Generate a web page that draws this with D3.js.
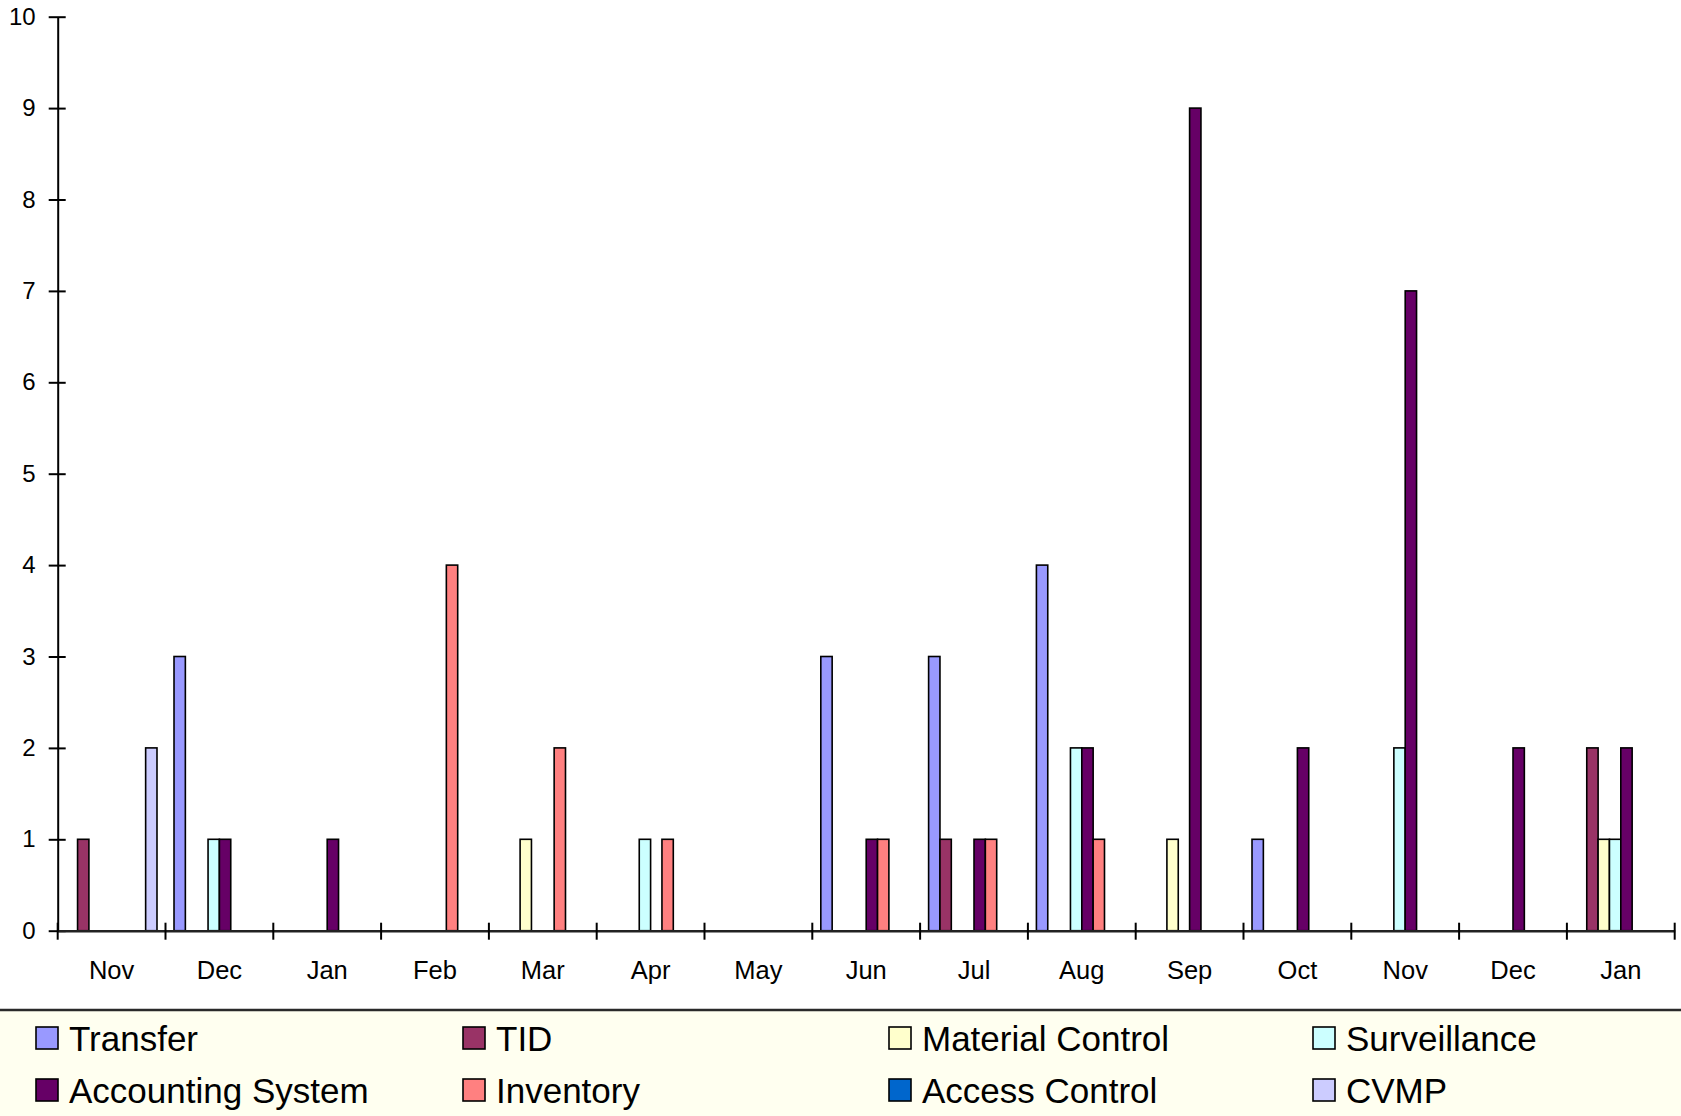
<!DOCTYPE html>
<html>
<head>
<meta charset="utf-8">
<script src="https://cdn.jsdelivr.net/npm/d3@7"></script>
<style>
  html, body { margin: 0; padding: 0; background: #ffffff; }
  svg { display: block; }
  text { font-family: "Liberation Sans", Arial, sans-serif; fill: #000; }
</style>
</head>
<body>
<svg id="chart" width="1681" height="1116"></svg>
<script>
// ---------- data ----------
const months = ["Nov", "Dec", "Jan", "Feb", "Mar", "Apr", "May", "Jun", "Jul", "Aug", "Sep", "Oct", "Nov", "Dec", "Jan"];
const seriesNames = ["Transfer", "TID", "Material Control", "Surveillance", "Accounting System", "Inventory", "Access Control", "CVMP"];
const transfer          = [0, 3, 0, 0, 0, 0, 0, 3, 3, 4, 0, 1, 0, 0, 0];
const tid               = [1, 0, 0, 0, 0, 0, 0, 0, 1, 0, 0, 0, 0, 0, 2];
const materialControl   = [0, 0, 0, 0, 1, 0, 0, 0, 0, 0, 1, 0, 0, 0, 1];
const surveillance      = [0, 1, 0, 0, 0, 1, 0, 0, 0, 2, 0, 0, 2, 0, 1];
const accountingSystem  = [0, 1, 1, 0, 0, 0, 0, 1, 1, 2, 9, 2, 7, 2, 2];
const inventory         = [0, 0, 0, 4, 2, 1, 0, 1, 1, 1, 0, 0, 0, 0, 0];
const accessControl     = [0, 0, 0, 0, 0, 0, 0, 0, 0, 0, 0, 0, 0, 0, 0];
const cvmp              = [2, 0, 0, 0, 0, 0, 0, 0, 0, 0, 0, 0, 0, 0, 0];
const seriesColors = ["#9999FF", "#993366", "#FFFFCC", "#CCFFFF", "#660066", "#FF8080", "#0066CC", "#CCCCFF"];
const yTicks = [0, 1, 2, 3, 4, 5, 6, 7, 8, 9, 10];

const seriesValues = [transfer, tid, materialControl, surveillance, accountingSystem, inventory, accessControl, cvmp];

// ---------- layout ----------
const svg = d3.select("#chart");
const plotLeft = 57.7, plotRight = 1674.7, plotTop = 16.7, plotBottom = 930.7;

const x = d3.scaleBand()
  .domain(months.map((m, i) => i))
  .range([plotLeft, plotRight])
  .padding(0);

const xs = d3.scaleBand()
  .domain(seriesNames)
  .range([0, x.bandwidth()])
  .paddingInner(0)
  .paddingOuter(0.75);

const y = d3.scaleLinear().domain([0, 10]).range([plotBottom, plotTop]);

// ---------- bars ----------
const barData = [];
seriesValues.forEach((vals, si) => {
  vals.forEach((v, ci) => {
    if (v > 0) barData.push({ s: seriesNames[si], color: seriesColors[si], c: ci, v: v });
  });
});

svg.append("g").selectAll("rect")
  .data(barData)
  .join("rect")
  .attr("x", d => x(d.c) + xs(d.s))
  .attr("y", d => y(d.v))
  .attr("width", xs.bandwidth())
  .attr("height", d => y(0) - y(d.v))
  .attr("fill", d => d.color)
  .attr("stroke", "#000")
  .attr("stroke-width", 1.6);

// ---------- y axis ----------
const yAxis = d3.axisLeft(y).tickValues(yTicks).tickSize(0).tickPadding(22).tickFormat(d3.format("d"));
const gy = svg.append("g").attr("transform", `translate(${plotLeft},0)`).call(yAxis);
gy.select(".domain").attr("stroke", "#000").attr("stroke-width", 2);
gy.selectAll("text").style("font-size", "24px").style("font-family", "'Liberation Sans', Arial, sans-serif").attr("fill", "#000");
gy.selectAll(".tick").append("line")
  .attr("x1", -9).attr("x2", 8).attr("y1", 0).attr("y2", 0)
  .attr("stroke", "#000").attr("stroke-width", 2);

// ---------- x axis ----------
const xAxis = d3.axisBottom(x).tickSize(0).tickPadding(30).tickFormat(i => months[i]);
const gx = svg.append("g").attr("transform", `translate(0,${plotBottom})`).call(xAxis);
gx.select(".domain").attr("stroke", "#222").attr("stroke-width", 2.5);
gx.selectAll("text").style("font-size", "25.5px").style("font-family", "'Liberation Sans', Arial, sans-serif").attr("fill", "#000");
const boundaries = months.map((m, i) => x(i)).concat([plotRight]);
gx.append("g").selectAll("line")
  .data(boundaries)
  .join("line")
  .attr("x1", d => d).attr("x2", d => d)
  .attr("y1", -8).attr("y2", 9)
  .attr("stroke", "#000").attr("stroke-width", 2);

// ---------- legend ----------
const legendTop = 1010;
svg.append("rect").attr("x", 0).attr("y", legendTop).attr("width", 1681).attr("height", 1116 - legendTop).attr("fill", "#FFFFF0");
svg.append("line").attr("x1", 0).attr("x2", 1681).attr("y1", legendTop).attr("y2", legendTop)
  .attr("stroke", "#2a2a2a").attr("stroke-width", 2.5);

const colX = [36, 463, 889, 1313];
const rowBase = [1051, 1103];
const lg = svg.append("g").selectAll("g")
  .data(seriesNames)
  .join("g")
  .attr("transform", (d, i) => `translate(${colX[i % 4]},${rowBase[Math.floor(i / 4)]})`);
lg.append("rect")
  .attr("x", 0).attr("y", -24).attr("width", 22).attr("height", 22)
  .attr("fill", (d, i) => seriesColors[i])
  .attr("stroke", "#000").attr("stroke-width", 1.6);
lg.append("text")
  .attr("x", 33).attr("y", 0)
  .style("font-size", "35px")
  .text(d => d);
</script>
</body>
</html>
